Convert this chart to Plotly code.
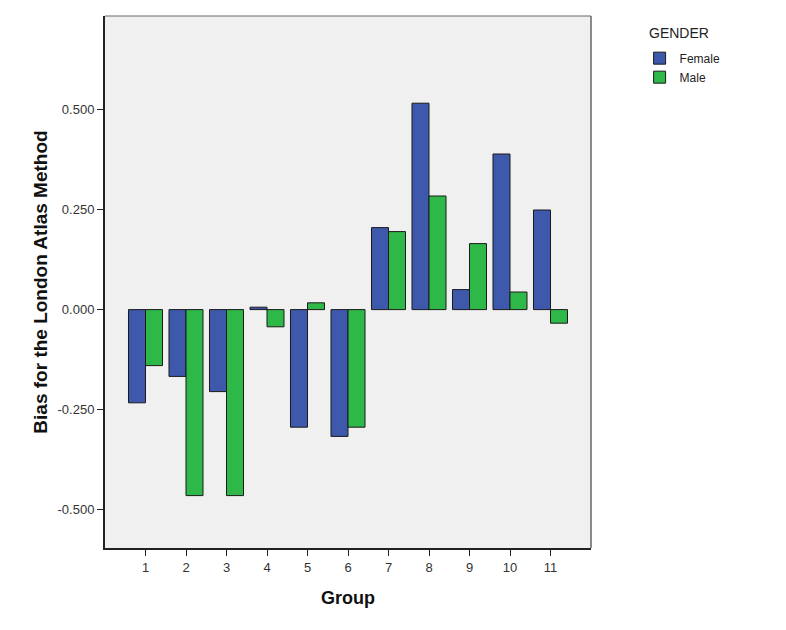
import plotly.graph_objects as go

groups = ["1", "2", "3", "4", "5", "6", "7", "8", "9", "10", "11"]
female = [-0.233, -0.167, -0.205, 0.006, -0.294, -0.317, 0.205, 0.516, 0.050, 0.389, 0.249]
male = [-0.140, -0.465, -0.465, -0.043, 0.017, -0.294, 0.195, 0.284, 0.165, 0.044, -0.034]
yticks = [-0.5, -0.25, 0.0, 0.25, 0.5]
ytick_labels = ["-0.500", "-0.250", "0.000", "0.250", "0.500"]

xpos = [int(g) for g in groups]

fig = go.Figure()
fig.add_trace(go.Bar(x=xpos, y=female, name="Female",
                     marker=dict(color="#3E58AC", line=dict(color="#1a1a1a", width=1))))
fig.add_trace(go.Bar(x=xpos, y=male, name="Male",
                     marker=dict(color="#2EB848", line=dict(color="#1a1a1a", width=1))))

fig.update_layout(
    width=786, height=630,
    margin=dict(l=97, r=203, t=8, b=90),
    paper_bgcolor="white",
    plot_bgcolor="#F0F0F0",
    barmode="group",
    bargap=0.16,
    bargroupgap=0,
    font=dict(family="Arial, Liberation Sans, sans-serif", color="#222222", size=12),
    showlegend=True,
    legend=dict(
        x=1.10, xanchor="left", y=0.948, yanchor="top",
        font=dict(size=12, color="#222222"),
        itemwidth=30, tracegroupgap=0,
        bgcolor="rgba(0,0,0,0)",
    ),
    xaxis=dict(
        range=[0, 12],
        tickmode="array", tickvals=xpos, ticktext=groups,
        ticks="outside", ticklen=6, tickcolor="#222222", tickwidth=1,
        showline=True, linecolor="#222222", linewidth=2, mirror=False,
        showgrid=False, zeroline=False,
        title=dict(text="<b>Group</b>", font=dict(size=18, color="#111111"), standoff=18),
        tickfont=dict(size=13, color="#333333"),
    ),
    yaxis=dict(
        range=[-0.596, 0.734],
        tickmode="array", tickvals=yticks, ticktext=ytick_labels,
        ticks="outside", ticklen=6, tickcolor="#222222", tickwidth=1,
        showline=True, linecolor="#222222", linewidth=2, mirror=False,
        showgrid=False, zeroline=False,
        title=dict(text="<b>Bias for the London Atlas Method</b>", font=dict(size=19, color="#111111"), standoff=5),
        tickfont=dict(size=13, color="#333333"),
    ),
    annotations=[dict(text="GENDER", xref="paper", yref="paper", x=1.115, y=0.987,
                      xanchor="left", yanchor="top", showarrow=False,
                      font=dict(size=14, color="#222222"))],
)

# thin grey frame on top and right of plot area
fig.add_shape(type="line", xref="paper", yref="paper", x0=0, x1=1, y0=1, y1=1,
              line=dict(color="#666666", width=1))
fig.add_shape(type="line", xref="paper", yref="paper", x0=1, x1=1, y0=0, y1=1,
              line=dict(color="#666666", width=1.5))

fig.write_html("out.html")
